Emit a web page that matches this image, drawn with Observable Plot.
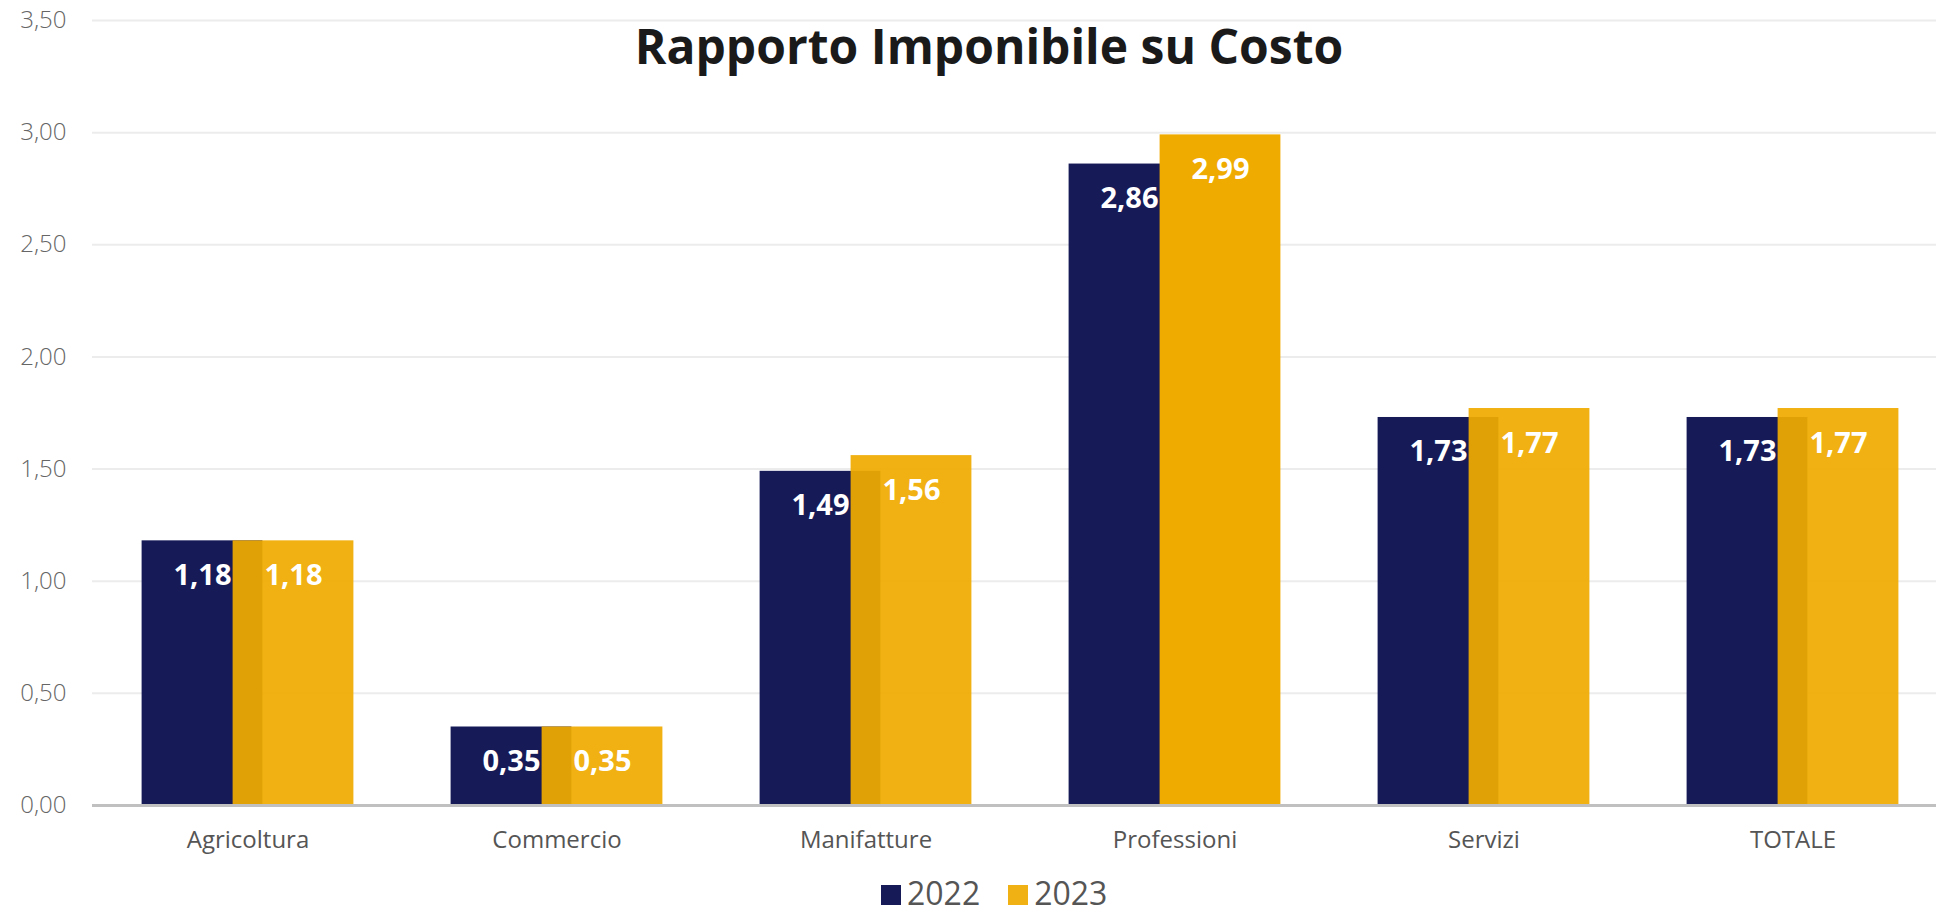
<!DOCTYPE html>
<html>
<head>
<meta charset="utf-8">
<script src="https://cdn.jsdelivr.net/npm/d3@7"></script>
<script src="https://cdn.jsdelivr.net/npm/@observablehq/plot@0.6"></script>
<style>
  html, body { margin: 0; padding: 0; background: #fff; }
  #wrap { position: relative; width: 1936px; height: 915px; font-family: "Open Sans", sans-serif; }
  #title { position: absolute; left: 0; top: 22px; width: 1936px; padding-left: 42px; box-sizing: border-box; text-align: center; font-size: 48px; line-height: 48px; font-weight: 700; color: #1a1a1a; pointer-events: none; }
  #legend { position: absolute; left: 881px; top: 879px; font-size: 32px; line-height: 28px; color: #555; white-space: nowrap; }
  #legend .item { display: inline-block; margin-right: 28px; }
  #legend .sw { display: inline-block; width: 20px; height: 20px; margin-right: 6px; vertical-align: baseline; }
</style>
</head>
<body>
<div id="wrap">
  <div id="chart"></div>
  <div id="title">Rapporto Imponibile su Costo</div>
  <div id="legend"></div>
</div>
<script>
const categories = ["Agricoltura", "Commercio", "Manifatture", "Professioni", "Servizi", "TOTALE"];
const values2022 = [1.18, 0.35, 1.49, 2.86, 1.73, 1.73];
const values2023 = [1.18, 0.35, 1.56, 2.99, 1.77, 1.77];
const years = ["2022", "2023"];
const yTicks = [0, 0.5, 1, 1.5, 2, 2.5, 3, 3.5];

const navy = "#161b58";
const yellow = "#f0ab00";
const legendColors = ["#161b58", "#f0b114"];

const fmt = v => d3.format(".2f")(v).replace(".", ",");

const d2022 = categories.map((c, i) => ({cat: c, v: values2022[i]}));
const d2023 = categories.map((c, i) => ({cat: c, v: values2023[i]}));

const chart = Plot.plot({
  width: 1936,
  height: 870,
  marginLeft: 92,
  marginRight: 0,
  marginTop: 20,
  marginBottom: 65,
  style: {fontFamily: "Open Sans, sans-serif", background: "#fff", overflow: "hidden"},
  x: {domain: categories, range: [92, 1947], padding: 0},
  y: {domain: [0, 3.5]},
  marks: [
    Plot.ruleY(yTicks, {stroke: "#ececec", strokeWidth: 2}),
    Plot.axisY({ticks: yTicks, tickSize: 0, tickPadding: 26, tickFormat: fmt, fontSize: 24, fontWeight: 300, fill: "#666", label: null}),
    Plot.axisX({tickSize: 0, tickPadding: 25, fontSize: 24, fill: "#555", label: null}),
    Plot.barY(d2022, {x: "cat", y: "v", fill: navy, insetLeft: 48.6, insetRight: 139.6}),
    Plot.text(d2022, {x: "cat", y: "v", text: d => fmt(d.v), dx: -45.5, dy: 44, lineAnchor: "bottom", fill: "#fff", fontSize: 29, fontWeight: 700}),
    Plot.barY(d2023, {x: "cat", y: "v", fill: yellow, fillOpacity: d => d.cat === "Professioni" ? 1 : 0.93, insetLeft: 139.6, insetRight: 48.6}),
    Plot.text(d2023, {x: "cat", y: "v", text: d => fmt(d.v), dx: 45.5, dy: 44, lineAnchor: "bottom", fill: "#fff", fontSize: 29, fontWeight: 700}),
    Plot.ruleY([0], {stroke: "#c0c0c0", strokeWidth: 3})
  ]
});
document.getElementById("chart").appendChild(chart);

const legend = document.getElementById("legend");
years.forEach((y, i) => {
  const item = document.createElement("span");
  item.className = "item";
  const sw = document.createElement("span");
  sw.className = "sw";
  sw.style.background = legendColors[i];
  item.appendChild(sw);
  item.appendChild(document.createTextNode(y));
  legend.appendChild(item);
});
</script>
</body>
</html>
